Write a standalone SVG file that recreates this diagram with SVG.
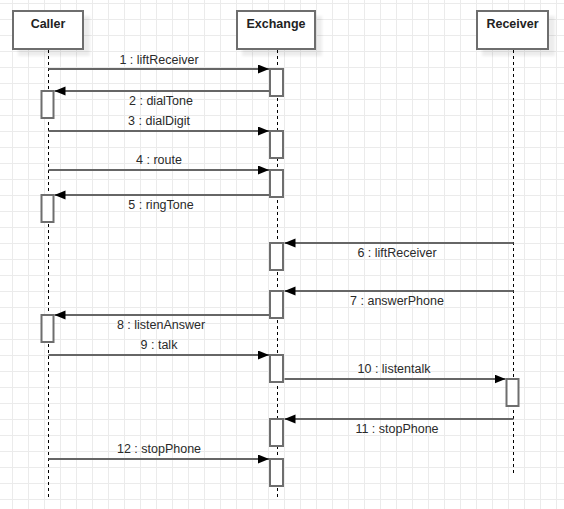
<svg xmlns="http://www.w3.org/2000/svg" width="564" height="509" viewBox="0 0 564 509">
<style>
.hdr{fill:#fff;stroke:#6e6e6e;stroke-width:2}
.shd{fill:#000;opacity:0.07}
.hdrt{font-family:"Liberation Sans",Arial,sans-serif;font-size:12.5px;font-weight:bold;fill:#222;text-anchor:middle}
.life{stroke:#000;stroke-width:1;stroke-dasharray:3 3;fill:none}
.act{fill:#fff;stroke:#6e6e6e;stroke-width:2}
.msg{stroke:#666;stroke-width:2;fill:none;marker-end:url(#arr)}
.lbl{font-family:"Liberation Sans",Arial,sans-serif;font-size:12.5px;fill:#2a2a2a;text-anchor:middle}
</style>
<defs>
<pattern id="grid" patternUnits="userSpaceOnUse" x="12" y="3" width="16" height="16">
<path d="M0 0.5H16M0.5 0V16" stroke="#ebebeb" stroke-width="1" fill="none"/>
</pattern>
<marker id="arr" markerUnits="userSpaceOnUse" markerWidth="12" markerHeight="10" refX="11" refY="4.5" orient="auto">
<path d="M0,0 L11,4.5 L0,9 Z" fill="#000"/>
</marker>
<filter id="blur" x="-20%" y="-20%" width="140%" height="140%"><feGaussianBlur stdDeviation="1.5"/></filter>
</defs>
<rect width="564" height="509" fill="#fff"/>
<rect width="564" height="509" fill="url(#grid)"/>

<g id="caller">
<rect class="shd" x="18" y="16" width="72" height="40" filter="url(#blur)"/>
<rect class="hdr" x="13" y="11" width="70" height="38"/>
<text class="hdrt" x="48" y="28">Caller</text>
<line class="life" x1="48.5" y1="50" x2="48.5" y2="498"/>
<rect class="act" x="41.5" y="91" width="12" height="27"/>
<rect class="act" x="41.5" y="195" width="12" height="27"/>
<rect class="act" x="41.5" y="315" width="12" height="27"/>
</g>

<g id="exchange">
<rect class="shd" x="242" y="16" width="80" height="40" filter="url(#blur)"/>
<rect class="hdr" x="237" y="11" width="78" height="38"/>
<text class="hdrt" x="276" y="28">Exchange</text>
<line class="life" x1="277.5" y1="50" x2="277.5" y2="498"/>
<rect class="act" x="270" y="69" width="13" height="27"/>
<rect class="act" x="270" y="131" width="13" height="27"/>
<rect class="act" x="270" y="170" width="13" height="27"/>
<rect class="act" x="270" y="243" width="13" height="27"/>
<rect class="act" x="270" y="291" width="13" height="27"/>
<rect class="act" x="270" y="355" width="13" height="27"/>
<rect class="act" x="270" y="419" width="13" height="27"/>
<rect class="act" x="270" y="459" width="13" height="27"/>
</g>

<g id="receiver">
<rect class="shd" x="482" y="16" width="73" height="40" filter="url(#blur)"/>
<rect class="hdr" x="477" y="11" width="71" height="38"/>
<text class="hdrt" x="512.5" y="28">Receiver</text>
<line class="life" x1="513.5" y1="50" x2="513.5" y2="473"/>
<rect class="act" x="506.5" y="379" width="12" height="27"/>
</g>

<g id="connectors">
<path class="msg" d="M48.5,69H269"/>
<text class="lbl" x="159" y="64">1 : liftReceiver</text>
<path class="msg" d="M269,91H54.5"/>
<text class="lbl" x="161" y="105">2 : dialTone</text>
<path class="msg" d="M48.5,131H269"/>
<text class="lbl" x="159" y="125">3 : dialDigit</text>
<path class="msg" d="M48.5,170H269"/>
<text class="lbl" x="159" y="164">4 : route</text>
<path class="msg" d="M269,195H54.5"/>
<text class="lbl" x="161" y="209">5 : ringTone</text>
<path class="msg" d="M513.5,243H284.5"/>
<text class="lbl" x="397" y="257">6 : liftReceiver</text>
<path class="msg" d="M513.5,291H284.5"/>
<text class="lbl" x="397" y="305">7 : answerPhone</text>
<path class="msg" d="M269,315H54.5"/>
<text class="lbl" x="161" y="329">8 : listenAnswer</text>
<path class="msg" d="M48.5,355H269"/>
<text class="lbl" x="159" y="349">9 : talk</text>
<path class="msg" d="M284.5,379H505.5"/>
<text class="lbl" x="394" y="373">10 : listentalk</text>
<path class="msg" d="M513.5,419H284.5"/>
<text class="lbl" x="397" y="433">11 : stopPhone</text>
<path class="msg" d="M48.5,459H269"/>
<text class="lbl" x="159" y="453">12 : stopPhone</text>
</g>
</svg>
